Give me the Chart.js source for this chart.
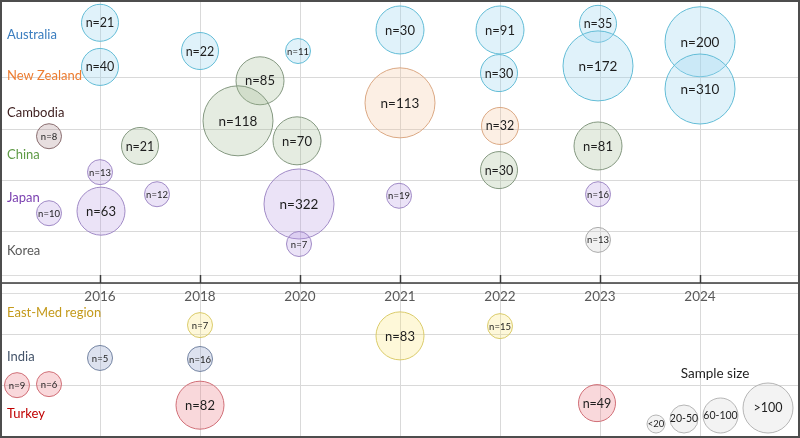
<!DOCTYPE html>
<html>
<head>
<meta charset="utf-8">
<script src="https://cdn.jsdelivr.net/npm/chart.js@4.4.1/dist/chart.umd.min.js"></script>
<style>
  html, body { margin: 0; padding: 0; background: #fff; }
  #wrap { width: 800px; height: 438px; }
</style>
</head>
<body>
<div id="wrap"><canvas id="chart"></canvas></div>
<script>
// tick labels (x slots 1..7)
const years = ['2016', '2018', '2020', '2021', '2022', '2023', '2024'];
const sizeClasses = ['<20', '20-50', '60-100', '>100'];

// x = year slot, y = row position, n = sample size, size = drawn size class
const ausX = [1, 1, 2, 2.98, 4, 5, 4.99, 5.98, 5.98, 7, 7];
const ausY = [8.07, 7.21, 7.52, 7.52, 7.93, 7.93, 7.09, 8.05, 7.23, 7.70, 6.78];
const ausN = [21, 40, 22, 11, 30, 91, 30, 35, 172, 200, 310];
const ausSize = ['20-50', '20-50', '20-50', '<20', '60-100', '60-100', '20-50', '20-50', '>100', '>100', '>100'];

const nzX = [4, 5];
const nzY = [6.51, 6.06];
const nzN = [113, 32];
const nzSize = ['>100', '20-50'];

const camX = [0.49];
const camY = [5.86];
const camN = [8];
const camSize = ['<20'];

const chinaX = [2.6, 2.38, 1.4, 2.97, 5.98, 4.99];
const chinaY = [6.94, 6.16, 5.67, 5.77, 5.67, 5.20];
const chinaN = [85, 118, 21, 70, 81, 30];
const chinaSize = ['60-100', '>100', '20-50', '60-100', '60-100', '20-50'];

const japanX = [1, 1.57, 0.49, 1.01, 2.99, 2.99, 3.99, 5.98];
const japanY = [5.16, 4.73, 4.36, 4.40, 4.54, 3.76, 4.70, 4.73];
const japanN = [13, 12, 10, 63, 322, 7, 19, 16];
const japanSize = ['<20', '<20', '<20', '60-100', '>100', '<20', '<20', '<20'];

const koreaX = [5.98];
const koreaY = [3.84];
const koreaN = [13];
const koreaSize = ['<20'];

const emedX = [2, 4, 5];
const emedY = [2.18, 1.97, 2.16];
const emedN = [7, 83, 15];
const emedSize = ['<20', '60-100', '<20'];

const indiaX = [1, 2];
const indiaY = [1.54, 1.52];
const indiaN = [5, 16];
const indiaSize = ['<20', '<20'];

const turkeyX = [0.17, 0.49, 2, 5.97];
const turkeyY = [1.01, 1.03, 0.62, 0.66];
const turkeyN = [9, 6, 82, 49];
const turkeySize = ['<20', '<20', '60-100', '20-50'];

// ---- styling / layout ----
const FONT = 'Lato, "Open Sans", sans-serif';
const radiusOf = { '<20': 12.5, '20-50': 18.5, '60-100': 24, '>100': 35 };
const fontOf   = { '<20': 9.5, '20-50': 12.5, '60-100': 13, '>100': 13.5 };

const series = [
  { name: 'Australia',       x: ausX,    y: ausY,    n: ausN,    size: ausSize,    text: '#3A7DBF', fill: 'rgba(160,215,240,0.32)', line: '#62BCD6', labelY: 7.83 },
  { name: 'New Zealand',     x: nzX,     y: nzY,     n: nzN,     size: nzSize,     text: '#ED7D31', fill: 'rgba(245,195,150,0.26)', line: '#DBA883', labelY: 7.03 },
  { name: 'Cambodia',        x: camX,    y: camY,    n: camN,    size: camSize,    text: '#3B1C1C', fill: 'rgba(175,145,150,0.30)', line: '#8A6E70', labelY: 6.31 },
  { name: 'China',           x: chinaX,  y: chinaY,  n: chinaN,  size: chinaSize,  text: '#5E9A45', fill: 'rgba(155,180,140,0.26)', line: '#849880', labelY: 5.49 },
  { name: 'Japan',           x: japanX,  y: japanY,  n: japanN,  size: japanSize,  text: '#7A3FB0', fill: 'rgba(180,150,225,0.27)', line: '#A08AC6', labelY: 4.66 },
  { name: 'Korea',           x: koreaX,  y: koreaY,  n: koreaN,  size: koreaSize,  text: '#595959', fill: 'rgba(200,200,200,0.25)', line: '#ABABAB', labelY: 3.62 },
  { name: 'East-Med region', x: emedX,   y: emedY,   n: emedN,   size: emedSize,   text: '#C49A1C', fill: 'rgba(250,230,120,0.28)', line: '#DACB6A', labelY: 2.42 },
  { name: 'India',           x: indiaX,  y: indiaY,  n: indiaN,  size: indiaSize,  text: '#44546A', fill: 'rgba(150,165,205,0.32)', line: '#7484A2', labelY: 1.56 },
  { name: 'Turkey',          x: turkeyX, y: turkeyY, n: turkeyN, size: turkeySize, text: '#C00000', fill: 'rgba(235,125,135,0.30)', line: '#D06E76', labelY: 0.45 }
];

const datasets = series.map(s => ({
  label: s.name,
  data: s.x.map((x, i) => ({ x: x, y: s.y[i], r: radiusOf[s.size[i]], n: s.n[i], size: s.size[i] })),
  backgroundColor: s.fill,
  borderColor: s.line,
  borderWidth: 1,
  hoverRadius: 0,
  clip: false
}));

// bubbles text, country names, year axis, legend, frame
const decorations = {
  id: 'decorations',
  beforeDatasetsDraw(chart) {
    const { ctx, chartArea: a, scales: { x, y } } = chart;
    ctx.save();
    // faint plot-area edges of the two panels
    ctx.strokeStyle = '#dcdcdc';
    ctx.lineWidth = 1;
    [3.15, 2.8].forEach(v => {
      const py = Math.round(y.getPixelForValue(v)) + 0.5;
      ctx.beginPath(); ctx.moveTo(a.left, py); ctx.lineTo(a.right, py); ctx.stroke();
    });
    // black axis line with upward ticks
    const axY = y.getPixelForValue(3);
    ctx.strokeStyle = '#3a3a3a';
    ctx.lineWidth = 1.5;
    ctx.beginPath(); ctx.moveTo(a.left, axY); ctx.lineTo(a.right, axY); ctx.stroke();
    years.forEach((yr, i) => {
      const px = Math.round(x.getPixelForValue(i + 1)) + 0.5;
      ctx.beginPath(); ctx.moveTo(px, axY); ctx.lineTo(px, axY - 8); ctx.stroke();
    });
    ctx.restore();
  },
  afterDatasetsDraw(chart) {
    const { ctx, chartArea: a, scales: { x, y } } = chart;
    ctx.save();
    ctx.textAlign = 'center';
    ctx.textBaseline = 'middle';
    ctx.fillStyle = '#1e1e1e';
    chart.data.datasets.forEach((ds, di) => {
      chart.getDatasetMeta(di).data.forEach((el, i) => {
        const p = ds.data[i];
        ctx.font = fontOf[p.size] + 'px ' + FONT;
        ctx.fillText('n=' + p.n, el.x, el.y + 0.5);
      });
    });

    // year labels under the axis line
    ctx.fillStyle = '#595959';
    ctx.font = '13.5px ' + FONT;
    const axY = y.getPixelForValue(3);
    years.forEach((yr, i) => ctx.fillText(yr, x.getPixelForValue(i + 1), axY + 14));

    // country names on the left
    ctx.textAlign = 'left';
    ctx.font = '13px ' + FONT;
    series.forEach(s => {
      ctx.fillStyle = s.text;
      ctx.fillText(s.name, a.left + 7, y.getPixelForValue(s.labelY));
    });

    // sample size legend
    const legR = [9, 14, 17.5, 25];
    const legFont = [9.5, 10.5, 10.5, 12.5];
    const base = a.bottom - 4;
    let lx = a.right - 153;
    ctx.textAlign = 'center';
    ctx.fillStyle = '#1e1e1e';
    ctx.font = '13.5px ' + FONT;
    ctx.fillText('Sample size', a.right - 85, base - 59);
    sizeClasses.forEach((lab, i) => {
      const r = legR[i];
      const cx = lx + r, cy = base - r;
      ctx.beginPath();
      ctx.arc(cx, cy, r, 0, Math.PI * 2);
      ctx.fillStyle = 'rgba(215,215,215,0.3)';
      ctx.fill();
      ctx.strokeStyle = '#b5b5b5';
      ctx.lineWidth = 1;
      ctx.stroke();
      ctx.fillStyle = '#1e1e1e';
      ctx.font = legFont[i] + 'px ' + FONT;
      ctx.fillText(lab, cx, cy);
      lx += 2 * r + 5;
    });
    ctx.restore();
  },
  afterDraw(chart) {
    const { ctx, width, height } = chart;
    ctx.save();
    ctx.strokeStyle = '#4d4d4d';
    ctx.lineWidth = 2;
    ctx.strokeRect(1, 1, width - 2, height - 2);
    ctx.restore();
  }
};

new Chart(document.getElementById('chart'), {
  type: 'bubble',
  data: { datasets: datasets },
  plugins: [decorations],
  options: {
    responsive: true,
    maintainAspectRatio: false,
    animation: false,
    layout: { autoPadding: false, padding: { left: 0, right: 0, top: 2, bottom: 1 } },
    plugins: { legend: { display: false }, tooltip: { enabled: false } },
    scales: {
      x: {
        type: 'linear', min: 0, max: 8,
        ticks: { display: false, stepSize: 1 },
        grid: {
          drawTicks: false,
          color: c => (c.tick.value > 0 && c.tick.value < 8) ? '#d9d9d9' : 'rgba(0,0,0,0)'
        },
        border: { display: false }
      },
      y: {
        type: 'linear', min: 0, max: 8.475,
        ticks: { display: false, stepSize: 1 },
        grid: {
          drawTicks: false,
          color: c => (c.tick.value > 0 && c.tick.value < 8) ? '#d9d9d9' : 'rgba(0,0,0,0)'
        },
        border: { display: false }
      }
    }
  }
});
</script>
</body>
</html>
